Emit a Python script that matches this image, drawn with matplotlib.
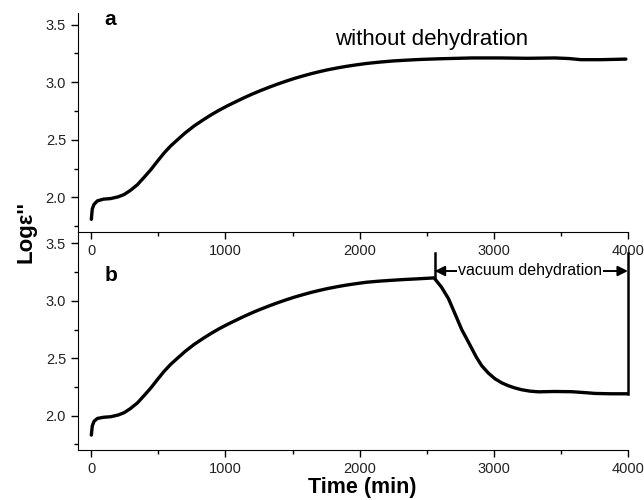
# Dielectric loss vs time, with and without vacuum dehydration (two stacked panels)

import matplotlib.pyplot as plt
from matplotlib.ticker import MultipleLocator

plt.rcParams['font.family'] = ['Liberation Sans', 'DejaVu Sans']

# panel a: without dehydration
time_a = [0, 7, 20, 45, 90, 144, 200, 244, 290, 343, 390, 443, 490, 542, 590, 642, 700,
          766, 830, 891, 950, 1015, 1080, 1139, 1200, 1264, 1330, 1388, 1450, 1513,
          1575, 1637, 1700, 1761, 1836, 1900, 1963, 2050, 2150, 2250, 2336, 2450,
          2600, 2836, 3050, 3250, 3455, 3560, 3650, 3800, 3985]
loge_a = [1.81, 1.90, 1.94, 1.97, 1.985, 1.99, 2.005, 2.025, 2.06, 2.11, 2.17, 2.24, 2.31,
          2.385, 2.445, 2.50, 2.56, 2.62, 2.67, 2.715, 2.755, 2.795, 2.832, 2.865, 2.897,
          2.928, 2.958, 2.983, 3.008, 3.032, 3.053, 3.073, 3.091, 3.107, 3.124, 3.137,
          3.148, 3.162, 3.174, 3.184, 3.19, 3.197, 3.203, 3.21, 3.21, 3.207, 3.21,
          3.205, 3.195, 3.195, 3.20]

# panel b: vacuum dehydration starts at ~2560 min
time_b = [0, 7, 20, 45, 90, 144, 200, 244, 290, 343, 390, 443, 490, 542, 590, 642, 700,
          766, 830, 891, 950, 1015, 1080, 1139, 1200, 1264, 1330, 1388, 1450, 1513,
          1575, 1637, 1700, 1761, 1836, 1900, 1963, 2050, 2150, 2250, 2336, 2450,
          2555, 2610, 2662, 2710, 2761, 2800, 2836, 2870, 2910, 2960, 3010, 3060, 3109,
          3160, 3209, 3270, 3333, 3450, 3582, 3680, 3756, 3870, 3995]
loge_b = [1.83, 1.91, 1.95, 1.975, 1.985, 1.99, 2.005, 2.025, 2.06, 2.11, 2.17, 2.24, 2.31,
          2.385, 2.445, 2.50, 2.56, 2.62, 2.67, 2.715, 2.755, 2.795, 2.832, 2.865, 2.897,
          2.928, 2.958, 2.983, 3.008, 3.032, 3.053, 3.073, 3.091, 3.107, 3.124, 3.137,
          3.148, 3.162, 3.172, 3.18, 3.186, 3.193,
          3.20, 3.12, 3.02, 2.89, 2.75, 2.665, 2.585, 2.51, 2.435, 2.37, 2.32, 2.285, 2.26,
          2.24, 2.225, 2.213, 2.207, 2.21, 2.208, 2.20, 2.193, 2.19, 2.19]

dehyd_start = 2560
dehyd_end = 4000
marker_top = 3.42

fig = plt.figure(figsize=(6.44, 5.0), dpi=100)
ax_a = fig.add_axes([0.121, 0.536, 0.854, 0.438])
ax_b = fig.add_axes([0.121, 0.100, 0.854, 0.436])

for ax in (ax_a, ax_b):
    ax.set_xlim(-100, 4000)
    ax.set_ylim(1.7, 3.6)
    ax.spines['top'].set_visible(False)
    ax.spines['right'].set_visible(False)
    ax.xaxis.set_major_locator(MultipleLocator(1000))
    ax.xaxis.set_minor_locator(MultipleLocator(500))
    ax.yaxis.set_major_locator(MultipleLocator(0.5))
    ax.yaxis.set_minor_locator(MultipleLocator(0.25))
    ax.set_yticks([2.0, 2.5, 3.0, 3.5])
    ax.tick_params(which='major', direction='out', length=5, width=1,
                   labelsize=10.5, labelcolor='#222222')
    ax.tick_params(which='minor', direction='out', length=3, width=1)
    ax.patch.set_visible(False)

ax_a.plot(time_a, loge_a, color='black', lw=2.4, solid_capstyle='round',
          solid_joinstyle='round')
ax_b.plot(time_b, loge_b, color='black', lw=2.4, solid_capstyle='round',
          solid_joinstyle='round')

ax_a.text(95, 3.54, 'a', fontsize=15, fontweight='bold', va='center')
ax_b.text(95, 3.22, 'b', fontsize=15, fontweight='bold', va='center')
ax_a.text(2540, 3.37, 'without dehydration', fontsize=16, ha='center', va='center')

# dehydration markers
ax_b.plot([dehyd_start, dehyd_start], [loge_b[42], marker_top], color='black', lw=1.8)
ax_b.plot([dehyd_end, dehyd_end], [loge_b[-1], marker_top], color='black', lw=1.8,
          clip_on=False)
ax_b.annotate('', xy=(dehyd_start, 3.26), xytext=(dehyd_end, 3.26),
              arrowprops=dict(arrowstyle='<|-|>', color='black', lw=1.4,
                              shrinkA=0, shrinkB=0, mutation_scale=15))
ax_b.text((dehyd_start + dehyd_end) / 2 - 10, 3.265, 'vacuum dehydration', fontsize=11.5,
          ha='center', va='center',
          bbox=dict(facecolor='white', edgecolor='none', pad=0.5))

fig.text(0.04, 0.536, "Logε''", rotation=90, fontsize=16, fontweight='bold',
         ha='center', va='center')
fig.text(0.563, 0.003, 'Time (min)', fontsize=15.5, fontweight='bold', ha='center',
         va='bottom')

plt.savefig('out.png', dpi=100)
